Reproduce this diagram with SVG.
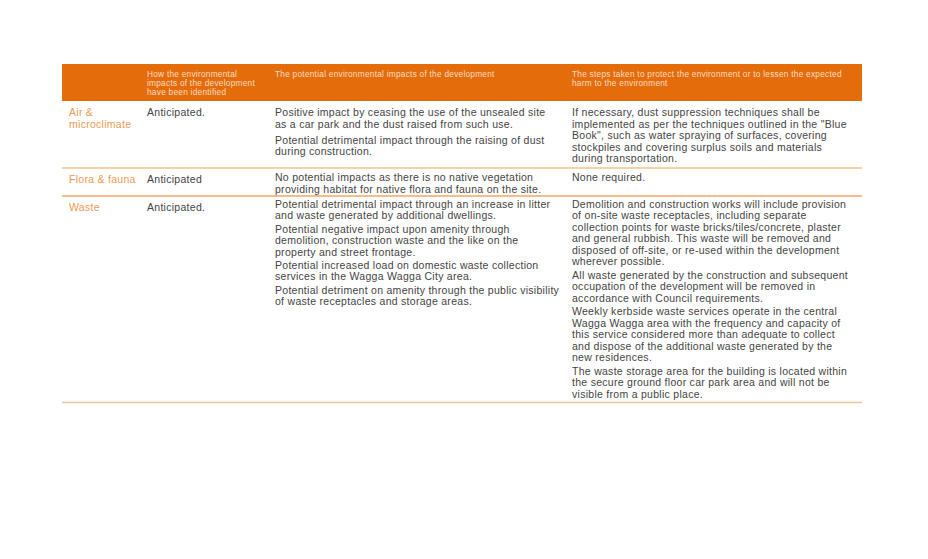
<svg xmlns="http://www.w3.org/2000/svg" width="928" height="559" viewBox="0 0 928 559">
<style>
text{font-family:"Liberation Sans",Arial,Helvetica,sans-serif}
.h{font-size:8.3px;letter-spacing:0.25px;fill:#FBDDC2}
.b{font-size:10.5px;letter-spacing:0.28px;fill:#444444}
.l{font-size:10.5px;letter-spacing:0.28px;fill:#EC9A52}
.sep{stroke-width:1.4;fill:none}
</style>
<rect width="928" height="559" fill="#ffffff"/>
<g id="header">
<rect x="62" y="64" width="800" height="37" fill="#E46C0A"/>
<text class="h"><tspan x="147" y="77">How the environmental</tspan><tspan x="147" y="86">impacts of the development</tspan><tspan x="147" y="95">have been identified</tspan></text>
<text class="h"><tspan x="275" y="77">The potential environmental impacts of the development</tspan></text>
<text class="h"><tspan x="572" y="77">The steps taken to protect the environment or to lessen the expected</tspan><tspan x="572" y="86">harm to the environment</tspan></text>
</g>
<g id="row-air">
<text class="l"><tspan x="69" y="116">Air &amp;</tspan><tspan x="69" y="127.5">microclimate</tspan></text>
<text class="b" x="147" y="116">Anticipated.</text>
<text class="b"><tspan x="275" y="116">Positive impact by ceasing the use of the unsealed site</tspan><tspan x="275" y="127.5">as a car park and the dust raised from such use.</tspan><tspan x="275" y="143.5">Potential detrimental impact through the raising of dust</tspan><tspan x="275" y="155">during construction.</tspan></text>
<text class="b"><tspan x="572" y="116">If necessary, dust suppression techniques shall be</tspan><tspan x="572" y="127.5">implemented as per the techniques outlined in the "Blue</tspan><tspan x="572" y="139">Book", such as water spraying of surfaces, covering</tspan><tspan x="572" y="150.5">stockpiles and covering surplus soils and materials</tspan><tspan x="572" y="162">during transportation.</tspan></text>
</g>
<g id="row-flora">
<text class="l" x="69" y="182.5">Flora &amp; fauna</text>
<text class="b" x="147" y="182.5">Anticipated</text>
<text class="b"><tspan x="275" y="181">No potential impacts as there is no native vegetation</tspan><tspan x="275" y="192.5">providing habitat for native flora and fauna on the site.</tspan></text>
<text class="b" x="572" y="181">None required.</text>
</g>
<g id="row-waste">
<text class="l" x="69" y="211">Waste</text>
<text class="b" x="147" y="211">Anticipated.</text>
<text class="b"><tspan x="275" y="207.5">Potential detrimental impact through an increase in litter</tspan><tspan x="275" y="219">and waste generated by additional dwellings.</tspan><tspan x="275" y="232.5">Potential negative impact upon amenity through</tspan><tspan x="275" y="244">demolition, construction waste and the like on the</tspan><tspan x="275" y="255.5">property and street frontage.</tspan><tspan x="275" y="268.8">Potential increased load on domestic waste collection</tspan><tspan x="275" y="280.3">services in the Wagga Wagga City area.</tspan><tspan x="275" y="293.5">Potential detriment on amenity through the public visibility</tspan><tspan x="275" y="305">of waste receptacles and storage areas.</tspan></text>
<text class="b"><tspan x="572" y="207.5">Demolition and construction works will include provision</tspan><tspan x="572" y="219">of on-site waste receptacles, including separate</tspan><tspan x="572" y="230.5">collection points for waste bricks/tiles/concrete, plaster</tspan><tspan x="572" y="242">and general rubbish.  This waste will be removed and</tspan><tspan x="572" y="253.5">disposed of off-site, or re-used within the development</tspan><tspan x="572" y="265">wherever possible.</tspan><tspan x="572" y="278.5">All waste generated by the construction and subsequent</tspan><tspan x="572" y="290">occupation of the development will be removed in</tspan><tspan x="572" y="301.5">accordance with Council requirements.</tspan><tspan x="572" y="315">Weekly kerbside waste services operate in the central</tspan><tspan x="572" y="326.5">Wagga Wagga area with the frequency and capacity of</tspan><tspan x="572" y="338">this service considered more than adequate to collect</tspan><tspan x="572" y="349.5">and dispose of the additional waste generated by the</tspan><tspan x="572" y="361">new residences.</tspan><tspan x="572" y="374.5">The waste storage area for the building is located within</tspan><tspan x="572" y="386">the secure ground floor car park area and will not be</tspan><tspan x="572" y="397.5">visible from a public place.</tspan></text>
</g>
<g id="connectors">
<line class="sep" x1="62" y1="168" x2="862" y2="168" stroke="#F5C28E"/>
<line class="sep" x1="62" y1="196" x2="862" y2="196" stroke="#F7A55E"/>
<line class="sep" x1="62" y1="402.5" x2="862" y2="402.5" stroke="#EAC59C"/>
</g>
</svg>
